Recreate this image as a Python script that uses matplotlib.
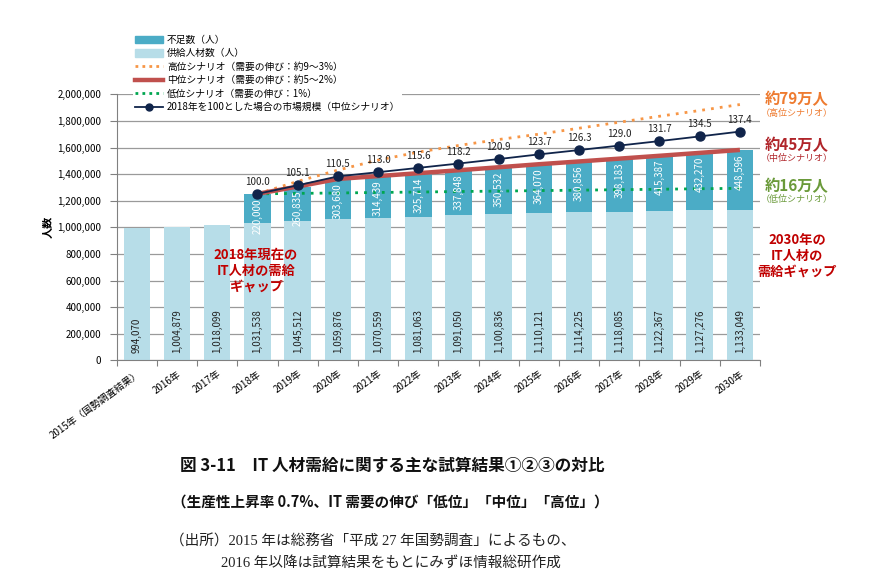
import numpy as np
import matplotlib.pyplot as plt
from matplotlib.patches import Patch
from matplotlib.lines import Line2D
from matplotlib.ticker import FuncFormatter

plt.rcParams['font.family'] = ['Noto Sans CJK JP', 'DejaVu Sans']

# --- data ---
years = ['2015年（国勢調査結果）', '2016年', '2017年', '2018年', '2019年', '2020年', '2021年',
         '2022年', '2023年', '2024年', '2025年', '2026年', '2027年', '2028年', '2029年', '2030年']
supply = [994070, 1004879, 1018099, 1031538, 1045512, 1059876, 1070559, 1081063,
          1091050, 1100836, 1110121, 1114225, 1118085, 1122367, 1127276, 1133049]
shortage = [0, 0, 0, 220000, 260835, 303680, 314439, 325714, 337848, 350532,
            364070, 380856, 398183, 415387, 432270, 448596]
# scenario lines, 2018-2030 (high / low)
high_scn = [1251538, 1345000, 1430000, 1505000, 1565000, 1615000, 1660000,
            1700000, 1745000, 1790000, 1835000, 1878000, 1923049]
low_scn = [1251538, 1255000, 1258000, 1262000, 1265000, 1269000, 1272000,
           1276000, 1279000, 1283000, 1286000, 1290000, 1293049]
market_idx = [100.0, 105.1, 110.5, 113.0, 115.6, 118.2, 120.9, 123.7,
              126.3, 129.0, 131.7, 134.5, 137.4]

c_short = '#4BACC6'
c_supply = '#B7DDE8'
c_high = '#F79646'
c_mid = '#C0504D'
c_low = '#00A650'
c_idx = '#10244A'

W, H = 871, 581
def fp(x, y):
    return x / W, 1 - y / H

fig = plt.figure(figsize=(W / 100, H / 100), dpi=100)
ax = fig.add_axes([116.7 / W, 1 - 360.3 / H, (760 - 116.7) / W, (360.3 - 94.3) / H])

x = np.arange(len(years))
supply = np.array(supply)
shortage = np.array(shortage)
total = supply + shortage
ax.bar(x, supply, width=0.66, color=c_supply, zorder=2)
ax.bar(x[3:], shortage[3:], bottom=supply[3:], width=0.66, color=c_short, zorder=2)

xs = x[3:]
base = total[3]
idx_vals = base * np.array(market_idx) / 100
ax.plot(xs, low_scn, color=c_low, lw=2.0, ls=(0, (1, 2.2)), zorder=3)
ax.plot(xs, high_scn, color=c_high, lw=2.0, ls=(0, (1, 2.2)), zorder=3)
ax.plot(xs, total[3:], color=c_mid, lw=3.2, solid_capstyle='butt', zorder=4)
ax.plot(xs, idx_vals, color=c_idx, lw=1.3, marker='o', ms=6.5, zorder=5)

for i in x:
    ax.annotate(f'{supply[i]:,}', (i, 0), xytext=(0, 5), textcoords='offset points',
                rotation=90, ha='center', va='bottom', fontsize=7, color='#222222', zorder=6)
    if shortage[i] > 0:
        ax.annotate(f'{shortage[i]:,}', (i, total[i]), xytext=(0, -3), textcoords='offset points',
                    rotation=90, ha='center', va='top', fontsize=7, color='white', zorder=6)
for xi, v, m in zip(xs, idx_vals, market_idx):
    ax.annotate(f'{m:.1f}', (xi, v), xytext=(0, 5), textcoords='offset points',
                ha='center', va='bottom', fontsize=7, color='#222222', zorder=6)

ax.set_xlim(-0.5, len(years) - 0.5)
ax.set_ylim(0, 2000000)
ax.set_yticks(np.arange(0, 2000001, 200000))
ax.yaxis.set_major_formatter(FuncFormatter(lambda v, p: f'{int(v):,}'))
ax.grid(axis='y', color='#9A9A9A', lw=0.9, zorder=0)
ax.set_axisbelow(True)

ax.set_xticks(np.arange(-0.5, len(years), 1.0))
ax.set_xticklabels([])
ax.set_xticks(x, minor=True)
ax.set_xticklabels(years, minor=True, rotation=36, ha='right', rotation_mode='anchor', fontsize=7)
ax.tick_params(axis='x', which='minor', length=0, pad=6)
ax.tick_params(axis='x', which='major', length=4, color='#808080')
ax.tick_params(axis='y', length=5, color='#808080', labelsize=7, pad=6)
for s in ['top', 'right']:
    ax.spines[s].set_visible(False)
for s in ['left', 'bottom']:
    ax.spines[s].set_color('#808080')
ax.set_ylabel('人数', fontsize=8, fontweight='bold', labelpad=2)

handles = [
    Patch(color=c_short), Patch(color=c_supply),
    Line2D([], [], color=c_high, lw=2.0, ls=(0, (1, 1.5))),
    Line2D([], [], color=c_mid, lw=3.2),
    Line2D([], [], color=c_low, lw=2.0, ls=(0, (1, 1.5))),
    Line2D([], [], color=c_idx, lw=1.3, marker='o', ms=5),
]
labels = ['不足数（人）', '供給人材数（人）', '高位シナリオ（需要の伸び：約9～3%）',
          '中位シナリオ（需要の伸び：約5～2%）', '低位シナリオ（需要の伸び：1%）',
          '2018年を100とした場合の市場規模（中位シナリオ）']
leg = fig.legend(handles, labels, loc='upper left', bbox_to_anchor=fp(128, 28),
                 fontsize=7, frameon=True, framealpha=1, edgecolor='none', fancybox=False,
                 handlelength=2.9, handleheight=0.8, labelspacing=0.36, borderpad=0.2,
                 handletextpad=0.4)
leg.set_zorder(10)

# right side annotations
fig.text(*fp(797, 99), '約79万人', color='#EE7B30', fontsize=11, fontweight='bold', ha='center', va='center')
fig.text(*fp(797, 113), '（高位シナリオ）', color='#EE7B30', fontsize=6.5, ha='center', va='center')
fig.text(*fp(797, 145), '約45万人', color='#B0252A', fontsize=11, fontweight='bold', ha='center', va='center')
fig.text(*fp(797, 158), '（中位シナリオ）', color='#B0252A', fontsize=6.5, ha='center', va='center')
fig.text(*fp(797, 186), '約16万人', color='#6A9A3A', fontsize=11, fontweight='bold', ha='center', va='center')
fig.text(*fp(797, 199), '（低位シナリオ）', color='#6A9A3A', fontsize=6.5, ha='center', va='center')
fig.text(*fp(797, 256), '2030年の\nIT人材の\n需給ギャップ', color='#C00000', fontsize=9.5,
         fontweight='bold', ha='center', va='center', linespacing=1.15)
fig.text(*fp(256, 271), '2018年現在の\nIT人材の需給\nギャップ', color='#C00000', fontsize=9.5,
         fontweight='bold', ha='center', va='center', linespacing=1.15)

# captions
fig.text(*fp(392, 466), '図 3-11　IT 人材需給に関する主な試算結果①②③の対比', fontsize=12,
         fontweight='bold', ha='center', va='center', color='#111111')
fig.text(*fp(390, 502), '（生産性上昇率 0.7%、IT 需要の伸び「低位」「中位」「高位」）', fontsize=10.5,
         fontweight='bold', ha='center', va='center', color='#111111')
serif = ['Liberation Serif', 'Noto Sans CJK JP']
fig.text(*fp(373, 542), '（出所）2015 年は総務省「平成 27 年国勢調査」によるもの、', fontsize=10.5,
         family=serif, ha='center', va='center', color='#222222')
fig.text(*fp(391, 563), '2016 年以降は試算結果をもとにみずほ情報総研作成', fontsize=10.5,
         family=serif, ha='center', va='center', color='#222222')

fig.savefig('out.png', dpi=100)
